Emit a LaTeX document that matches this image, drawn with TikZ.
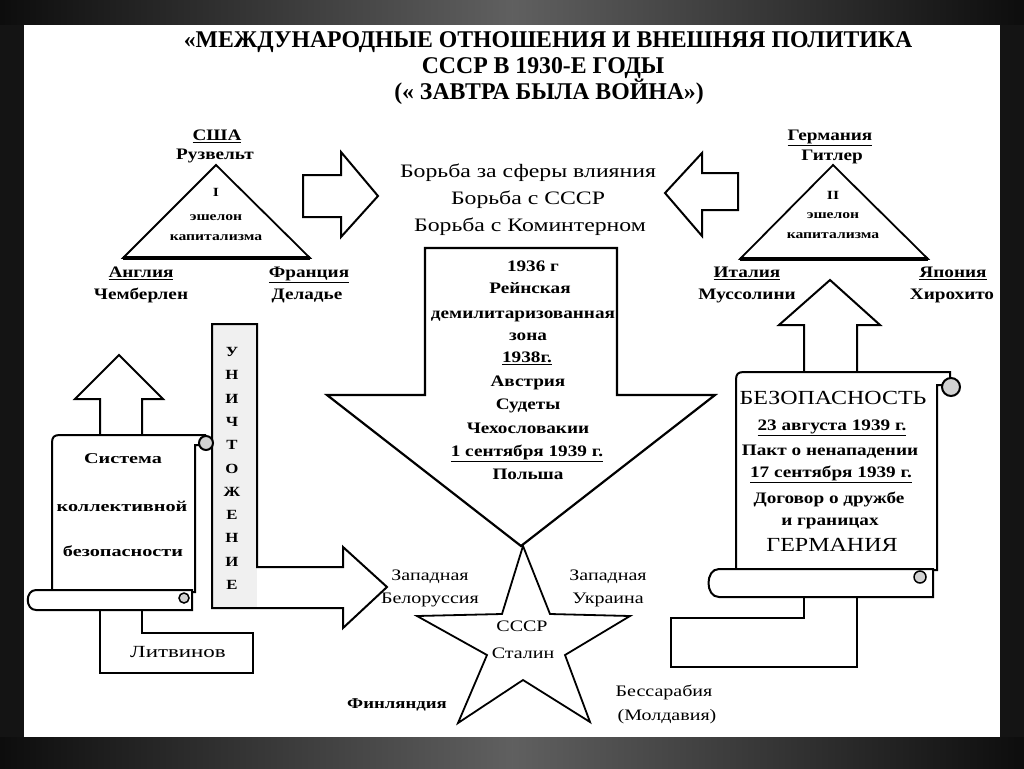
\documentclass[tikz,border=0pt]{standalone}
\usepackage{fontspec}
\setmainfont{Liberation Serif}
\newfontfamily\tfont{Liberation Serif}[FakeStretch=0.99]
\newfontfamily\bfont{Liberation Serif}[FakeStretch=1.2]
\newfontfamily\cfont{Liberation Serif}[FakeStretch=1.25]
\newfontfamily\wfont{Liberation Serif}[FakeStretch=1.35]
\begin{document}
\begin{tikzpicture}[x=1pt,y=-1pt,
  shp/.style={draw=black,line width=2pt,fill=white,line join=miter},
  ttl/.style={font=\tfont\bfseries\fontsize{24}{26}\selectfont,inner sep=0pt,text height=16pt,text depth=5pt},
  big/.style={font=\cfont\fontsize{19}{21}\selectfont,inner sep=0pt,text height=12pt,text depth=4pt},
  lbl/.style={font=\bfont\bfseries\fontsize{16}{18}\selectfont,inner sep=0pt,text height=10pt,text depth=3pt},
  sml/.style={font=\cfont\bfseries\fontsize{12.5}{13}\selectfont,inner sep=0pt,text height=8pt,text depth=2pt},
  arr/.style={font=\bfont\bfseries\fontsize{16}{18}\selectfont,inner sep=0pt,text height=10pt,text depth=3pt},
  reg/.style={font=\cfont\fontsize{16}{18}\selectfont,inner sep=0pt,text height=10pt,text depth=3pt},
  hug/.style={font=\bfont\fontsize{20}{22}\selectfont,inner sep=0pt,text height=13pt,text depth=4pt},
  kol/.style={font=\wfont\bfseries\fontsize{15}{16}\selectfont,inner sep=0pt,text height=10pt,text depth=3pt},
  vlet/.style={font=\bfont\bfseries\fontsize{14}{15}\selectfont,inner sep=0pt,text height=9pt,text depth=0pt},
  curl/.style={draw=black,line width=2pt,fill=gray!35}]
\useasboundingbox (0,0) rectangle (1024,768);
% frame
\fill[black!92] (0,0) rectangle (1024,768);
\shade[left color=black!95,right color=black!95,middle color=gray!75!black] (0,0) rectangle (1024,25);
\shade[left color=black!95,right color=black!95,middle color=gray!75!black] (0,737) rectangle (1024,768);
\fill[white] (24,25) rectangle (1000,737);
% title
\node[ttl] (t1) at (548,42) {«МЕЖДУНАРОДНЫЕ ОТНОШЕНИЯ И ВНЕШНЯЯ ПОЛИТИКА};
\node[ttl] (t2) at (543,68) {СССР В 1930-Е ГОДЫ};
\node[ttl] (t3) at (549,94) {(« ЗАВТРА БЫЛА ВОЙНА»)};
% left triangle
\draw[shp,line width=1.8pt] (216,165) -- (310,258) -- (123,258) -- cycle;
\draw[line width=3.5pt] (123,258) -- (310,258);
\node[lbl] (usa) at (217,137) {\underline{США}};
\node[lbl] (roos) at (215,156) {Рузвельт};
\node[sml] (e1) at (216,193) {I};
\node[sml] (e1a) at (216,217) {эшелон};
\node[sml] (e1b) at (216,237) {капитализма};
\node[lbl] (eng) at (141,274) {\underline{Англия}};
\node[lbl] (cham) at (141,296) {Чемберлен};
\node[lbl] (fra) at (309,274) {\underline{Франция}};
\node[lbl] (dal) at (307,296) {Деладье};
% right triangle
\draw[shp,line width=1.8pt] (833,165) -- (928,259) -- (740,259) -- cycle;
\draw[line width=3.5pt] (740,259) -- (928,259);
\node[lbl] (ger) at (830,137) {\underline{Германия}};
\node[lbl] (hit) at (832,157) {Гитлер};
\node[sml] (e2) at (833,196) {II};
\node[sml] (e2a) at (833,215) {эшелон};
\node[sml] (e2b) at (833,235) {капитализма};
\node[lbl] (ita) at (747,274) {\underline{Италия}};
\node[lbl] (mus) at (747,296) {Муссолини};
\node[lbl] (jap) at (953,274) {\underline{Япония}};
\node[lbl] (hir) at (952,296) {Хирохито};
% side arrows
\draw[shp] (303,175) -- (341,175) -- (341,152) -- (378,196) -- (341,237) -- (341,217) -- (303,217) -- cycle;
\draw[shp] (738,173) -- (702,173) -- (702,153) -- (665,193) -- (702,236) -- (702,210) -- (738,210) -- cycle;
% centre text
\node[big] (c1) at (528,173) {Борьба за сферы влияния};
\node[big] (c2) at (528,200) {Борьба с СССР};
\node[big] (c3) at (530,227) {Борьба с Коминтерном};
% big down arrow
\draw[shp,line width=2.2pt] (425,248) -- (617,248) -- (617,395) -- (715,395) -- (521,546) -- (327,395) -- (425,395) -- cycle;
\node[arr] (d1) at (533,268) {1936 г};
\node[arr] (d2) at (530,290) {Рейнская};
\node[arr] (d3) at (523,315) {демилитаризованная};
\node[arr] (d4) at (528,337) {зона};
\node[arr] (d5) at (527,359) {\underline{1938г.}};
\node[arr] (d6) at (528,383) {Австрия};
\node[arr] (d7) at (528,406) {Судеты};
\node[arr] (d8) at (528,430) {Чехословакии};
\node[arr] (d9) at (527,453) {\underline{1 сентября 1939 г.}};
\node[arr] (d10) at (528,476) {Польша};
% star
\draw[shp,line width=1.8pt] (523,546) -- (550,614) -- (630,616) -- (565,655) -- (590,722) -- (523,680) -- (458,723) -- (487,655) -- (417,616) -- (502,614) -- cycle;
\node[reg] (s1) at (522,628) {СССР};
\node[reg] (s2) at (523,655) {Сталин};
\node[reg] (wb1) at (430,577) {Западная};
\node[reg] (wb2) at (430,600) {Белоруссия};
\node[reg] (wu1) at (608,577) {Западная};
\node[reg] (wu2) at (608,600) {Украина};
\node[reg,font=\cfont\bfseries\fontsize{15}{17}\selectfont] (fin) at (397,705) {Финляндия};
\node[reg] (bes1) at (664,693) {Бессарабия};
\node[reg] (bes2) at (667,717) {(Молдавия)};
% L-arrow "уничтожение"
\fill[white] (212,324) -- (257,324) -- (257,567) -- (343,567) -- (343,547) -- (387,587) -- (343,628) -- (343,608) -- (212,608) -- cycle;
\fill[gray!12] (212,324) rectangle (257,608);
\draw[shp,fill=none] (212,324) -- (257,324) -- (257,567) -- (343,567) -- (343,547) -- (387,587) -- (343,628) -- (343,608) -- (212,608) -- cycle;
\foreach \l [count=\i from 0] in {У,Н,И,Ч,Т,О,Ж,Е,Н,И,Е}
  \node[vlet] (u\i) at (232,352+23.3*\i) {\l};
% left scroll
\draw[shp] (100,437) -- (100,399) -- (75,399) -- (119,355) -- (163,399) -- (142,399) -- (142,437);
\draw[shp] (142,608) -- (142,633) -- (253,633) -- (253,673) -- (100,673) -- (100,608);
\node[reg,font=\wfont\fontsize{17}{19}\selectfont] (lit) at (178,654) {Литвинов};
\draw[shp] (52,592) -- (52,443) .. controls (52,437) and (54,435) .. (60,435) -- (205,435) -- (205,445) -- (195,445) -- (195,592) -- cycle;
\draw[curl] (206,443) circle[radius=7];
\draw[shp] (36,590) -- (192,590) -- (192,610) -- (36,610) .. controls (25,610) and (25,590) .. (36,590) -- cycle;
\draw[curl,line width=1.5pt] (184,598) circle[radius=5];
\node[kol] (k1) at (123,460) {Система};
\node[kol] (k2) at (122,508) {коллективной};
\node[kol] (k3) at (123,553) {безопасности};
% right scroll
\draw[shp] (804,374) -- (804,325) -- (779,325) -- (830,280) -- (880,325) -- (857,325) -- (857,374);
\draw[shp] (804,595) -- (804,618) -- (671,618) -- (671,667) -- (857,667) -- (857,595);
\draw[shp] (736,570) -- (736,380) .. controls (736,374) and (738,372) .. (744,372) -- (950,372) -- (950,385) -- (937,385) -- (937,570) -- cycle;
\draw[curl] (951,387) circle[radius=9];
\draw[shp] (719,569) -- (933,569) -- (933,597) -- (719,597) .. controls (705,597) and (705,569) .. (719,569) -- cycle;
\draw[curl,line width=1.5pt] (920,577) circle[radius=6];
\node[hug] (r1) at (833,400) {БЕЗОПАСНОСТЬ};
\node[arr] (r2) at (832,427) {\underline{23 августа 1939 г.}};
\node[arr] (r3) at (830,452) {Пакт о ненападении};
\node[arr] (r4) at (831,474) {\underline{17 сентября 1939 г.}};
\node[arr] (r5) at (829,500) {Договор о дружбе};
\node[arr] (r6) at (830,522) {и границах};
\node[hug] (r7) at (832,547) {ГЕРМАНИЯ};
\end{tikzpicture}
\end{document}
